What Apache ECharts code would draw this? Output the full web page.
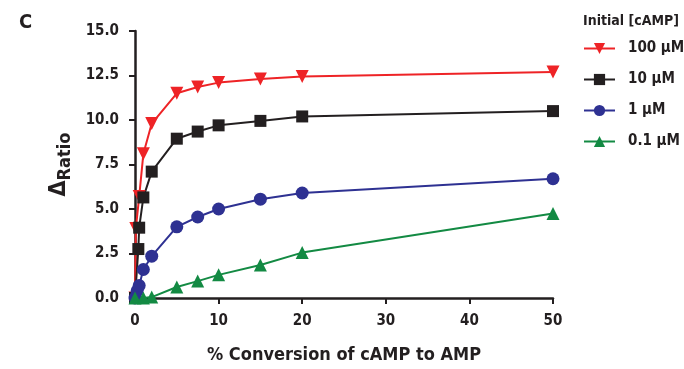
<!DOCTYPE html>
<html>
<head>
<meta charset="utf-8">
<script src="https://cdn.jsdelivr.net/npm/echarts@6/dist/echarts.min.js"></script>
<style>
  html, body { margin: 0; padding: 0; background: #fff; }
  #chart { width: 684px; height: 369px; }
</style>
</head>
<body>
<div id="chart"></div>
<script>
// 数据 (x = % conversion, y = ΔRatio)
const seriesNames = ['100 μM', '10 μM', '1 μM', '0.1 μM'];
const x100 = [0, 0.1, 0.5, 1, 2, 5, 7.5, 10, 15, 20, 50];
const y100 = [0, 3.9, 5.7, 8.1, 9.8, 11.5, 11.85, 12.1, 12.3, 12.45, 12.7];
const x10 = [0, 0.4, 0.5, 1, 2, 5, 7.5, 10, 15, 20, 50];
const y10 = [0, 2.75, 3.95, 5.65, 7.1, 8.95, 9.35, 9.7, 9.95, 10.2, 10.5];
const x1 = [0, 0.25, 0.5, 1, 2, 5, 7.5, 10, 15, 20, 50];
const y1 = [0, 0.4, 0.7, 1.6, 2.35, 4.0, 4.55, 5.0, 5.55, 5.9, 6.7];
const x01 = [0, 1, 2, 5, 7.5, 10, 15, 20, 50];
const y01 = [0, 0.0, 0.05, 0.62, 0.95, 1.3, 1.85, 2.55, 4.75];
const yTicks = [0, 2.5, 5, 7.5, 10, 12.5, 15];
const xTicks = [0, 10, 20, 30, 40, 50];

const colors = ['#ee2326', '#231f20', '#2e3192', '#138a43'];
const symbols = ['triangle', 'rect', 'circle', 'triangle'];
const rotates = [180, 0, 0, 0];
const xs = [x100, x10, x1, x01];
const ys = [y100, y10, y1, y01];

const font = '"DejaVu Sans Condensed", "Liberation Sans Narrow", sans-serif';

const chart = echarts.init(document.getElementById('chart'));

const series = seriesNames.map((name, i) => ({
  name: name,
  type: 'line',
  data: xs[i].map((x, k) => [x, ys[i][k]]),
  symbol: symbols[i],
  symbolRotate: rotates[i],
  symbolSize: symbols[i] === 'rect' ? 12 : 13,
  showSymbol: true,
  clip: false,
  lineStyle: { color: colors[i], width: 2 },
  itemStyle: { color: colors[i] }
}));

const option = {
  animation: false,
  title: [
    { text: 'C', left: 14, top: 8, textStyle: { fontFamily: font, fontSize: 20, fontWeight: 'bold', color: '#231f20' } },
    { text: 'Initial [cAMP]', left: 578, top: 9, textStyle: { fontFamily: font, fontSize: 14, fontWeight: 'bold', color: '#231f20' } }
  ],
  legend: {
    orient: 'vertical',
    left: 578,
    top: 36,
    itemWidth: 31,
    itemHeight: 14,
    itemGap: 16,
    data: seriesNames,
    textStyle: { fontFamily: font, fontSize: 15, fontWeight: 'bold', color: '#231f20', padding: [0, 0, 0, 8] }
  },
  grid: { left: 135, right: 131, top: 31, bottom: 69, containLabel: false },
  xAxis: {
    type: 'value',
    min: xTicks[0],
    max: xTicks[xTicks.length - 1],
    interval: 10,
    name: '% Conversion of cAMP to AMP',
    nameLocation: 'middle',
    nameGap: 48,
    nameTextStyle: { fontFamily: font, fontSize: 18, fontWeight: 'bold', color: '#231f20' },
    axisLine: { lineStyle: { color: '#231f20', width: 2.5 } },
    axisTick: { length: 6, lineStyle: { color: '#231f20', width: 2 } },
    axisLabel: { fontFamily: font, fontSize: 15, fontWeight: 'bold', color: '#231f20', margin: 16 },
    splitLine: { show: false }
  },
  yAxis: {
    type: 'value',
    min: yTicks[0],
    max: yTicks[yTicks.length - 1],
    interval: 2.5,
    name: '{a|Δ}{b|Ratio}',
    nameLocation: 'middle',
    nameGap: 60,
    nameTextStyle: {
      rich: {
        a: { fontFamily: font, fontSize: 23, fontWeight: 'bold', color: '#231f20' },
        b: { fontFamily: font, fontSize: 18, fontWeight: 'bold', color: '#231f20', padding: [14, 0, 0, 0] }
      }
    },
    axisLine: { show: true, lineStyle: { color: '#231f20', width: 2.5 } },
    axisTick: { show: true, length: 6, lineStyle: { color: '#231f20', width: 2 } },
    axisLabel: { fontFamily: font, fontSize: 15, fontWeight: 'bold', color: '#231f20', margin: 16, formatter: v => v.toFixed(1) },
    splitLine: { show: false }
  },
  series: series
};

chart.setOption(option);
</script>
</body>
</html>
